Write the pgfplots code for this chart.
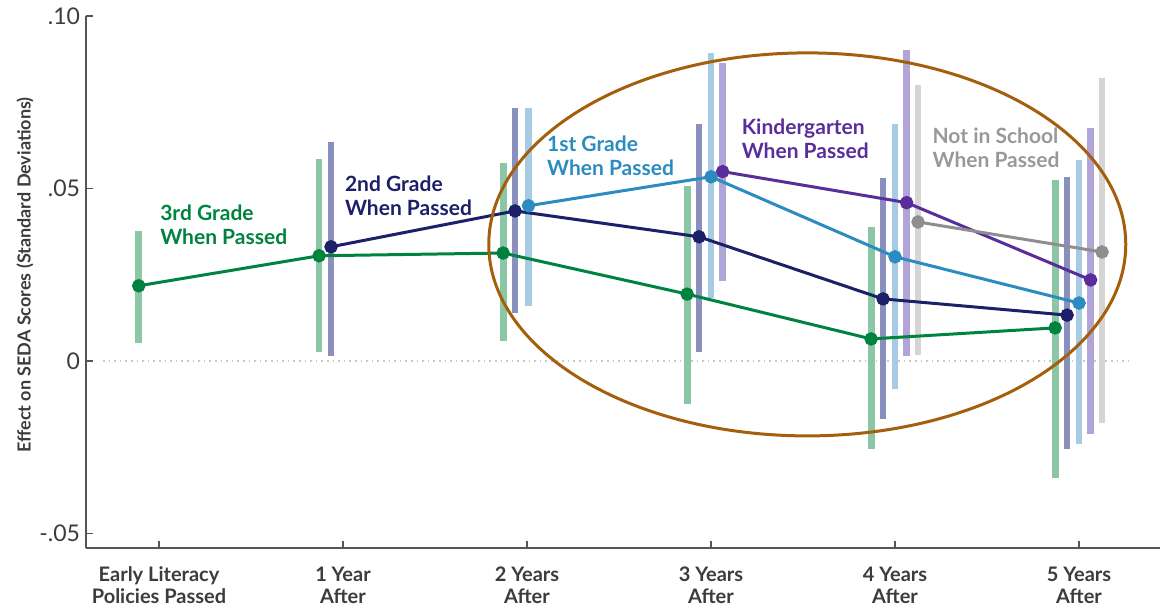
\documentclass[border=0pt]{standalone}
\usepackage{fontspec}
\setmainfont{Lato}
\usepackage{pgfplots}
\pgfplotsset{compat=1.18}
\definecolor{gline}{HTML}{00833F}
\definecolor{gbar}{HTML}{8CC7A5}
\definecolor{nline}{HTML}{1C2068}
\definecolor{nbar}{HTML}{8A90BD}
\definecolor{bline}{HTML}{2C8CC0}
\definecolor{bbar}{HTML}{A7CBE3}
\definecolor{pline}{HTML}{5A2D9C}
\definecolor{pbar}{HTML}{B1A4D6}
\definecolor{greyline}{HTML}{8E8E8E}
\definecolor{greybar}{HTML}{D5D5D5}
\definecolor{ellcol}{HTML}{A45F0C}
\definecolor{axisgray}{HTML}{555555}
\definecolor{labgray}{HTML}{3C3C3C}
\begin{document}
\begin{tikzpicture}
\useasboundingbox (-43pt,-31pt) rectangle (537pt,274pt);
\begin{axis}[
  scale only axis, width=537pt, height=266pt,
  xmin=-0.3967, xmax=5.440, ymin=-0.0542, ymax=0.10,
  axis x line=bottom, axis y line=left,
  axis line style={-, color=axisgray, line width=0.9pt},
  xtick={0,1,2,3,4,5},
  xticklabels={{Early Literacy\\Policies Passed},{1 Year\\After},{2 Years\\After},{3 Years\\After},{4 Years\\After},{5 Years\\After}},
  xticklabel style={align=center, font=\fontsize{10}{11}\selectfont\bfseries, text=labgray, yshift=-6pt},
  ytick={-0.05,0,0.05,0.1},
  yticklabels={-.05,0,.05,.10},
  yticklabel style={font=\fontsize{11.5}{13}\selectfont, text=labgray, xshift=0.5pt},
  tick align=inside, major tick length=3.5pt,
  tick style={color=axisgray, line width=0.9pt},
  ylabel={Effect on SEDA Scores (Standard Deviations)},
  ylabel style={at={(axis description cs:-0.0568,0.513)}, anchor=center, font=\fontsize{9}{10}\selectfont\bfseries, text=labgray},
  clip=false,
  unbounded coords=jump,
]
% zero reference line
\addplot[color=black!22, line width=0.8pt, dotted] coordinates {(-0.304,0) (5.271,0)};
% confidence bars
\addplot[gbar, line width=3.4pt] coordinates {
 (-0.11,0.0052) (-0.11,0.0377) (nan,nan)
 (0.87,0.0026) (0.87,0.0586) (nan,nan)
 (1.87,0.0058) (1.87,0.0575) (nan,nan)
 (2.87,-0.0125) (2.87,0.0508) (nan,nan)
 (3.87,-0.0255) (3.87,0.0389) (nan,nan)
 (4.87,-0.034) (4.87,0.0525)};
\addplot[nbar, line width=3.4pt] coordinates {
 (0.935,0.0015) (0.935,0.0636) (nan,nan)
 (1.935,0.0139) (1.935,0.0734) (nan,nan)
 (2.935,0.0026) (2.935,0.0688) (nan,nan)
 (3.935,-0.0168) (3.935,0.0531) (nan,nan)
 (4.935,-0.0255) (4.935,0.0534)};
\addplot[bbar, line width=3.4pt] coordinates {
 (2.008,0.016) (2.008,0.0734) (nan,nan)
 (3,0.0183) (3,0.0894) (nan,nan)
 (4,-0.0081) (4,0.0688) (nan,nan)
 (5,-0.0241) (5,0.0583)};
\addplot[pbar, line width=3.4pt] coordinates {
 (3.063,0.0232) (3.063,0.0865) (nan,nan)
 (4.063,0.0015) (4.063,0.090) (nan,nan)
 (5.063,-0.0212) (5.063,0.0676)};
\addplot[greybar, line width=3.4pt] coordinates {
 (4.125,0.0017) (4.125,0.080) (nan,nan)
 (5.125,-0.018) (5.125,0.0821)};
% point estimates
\addplot[gline, line width=1.5pt, mark=*, mark size=2.6pt] coordinates {
 (-0.11,0.0218) (0.87,0.0305) (1.87,0.0313) (2.87,0.0194) (3.87,0.0064) (4.87,0.0096)};
\addplot[nline, line width=1.5pt, mark=*, mark size=2.6pt] coordinates {
 (0.935,0.0331) (1.935,0.0435) (2.935,0.036) (3.935,0.018) (4.935,0.0133)};
\addplot[bline, line width=1.5pt, mark=*, mark size=2.6pt] coordinates {
 (2.008,0.045) (3,0.0534) (4,0.0302) (5,0.0168)};
\addplot[pline, line width=1.5pt, mark=*, mark size=2.6pt] coordinates {
 (3.063,0.0549) (4.063,0.0459) (5.063,0.0235)};
\addplot[greyline, line width=1.5pt, mark=*, mark size=2.6pt] coordinates {
 (4.125,0.0403) (5.125,0.0316)};
% series labels
\node[anchor=north west, inner sep=0pt, align=left, text=gline, font=\fontsize{10.5}{12}\selectfont\bfseries] at (axis cs:0.005,0.0455) {3rd Grade\\When Passed};
\node[anchor=north west, inner sep=0pt, align=left, text=nline, font=\fontsize{10.5}{12}\selectfont\bfseries] at (axis cs:1.009,0.0539) {2nd Grade\\When Passed};
\node[anchor=north west, inner sep=0pt, align=left, text=bline, font=\fontsize{10.5}{12}\selectfont\bfseries] at (axis cs:2.107,0.0655) {1st Grade\\When Passed};
\node[anchor=north west, inner sep=0pt, align=left, text=pline, font=\fontsize{10.5}{12}\selectfont\bfseries] at (axis cs:3.165,0.0704) {Kindergarten\\When Passed};
\node[anchor=north west, inner sep=0pt, align=left, text=greyline!90, font=\fontsize{10.5}{12}\selectfont\bfseries] at (axis cs:4.202,0.0678) {Not in School\\When Passed};
% highlight ellipse
\draw[ellcol, line width=1.5pt] (axis cs:3.523,0.0338) ellipse [x radius=159.25pt, y radius=95.75pt];
\end{axis}
\end{tikzpicture}
\end{document}
